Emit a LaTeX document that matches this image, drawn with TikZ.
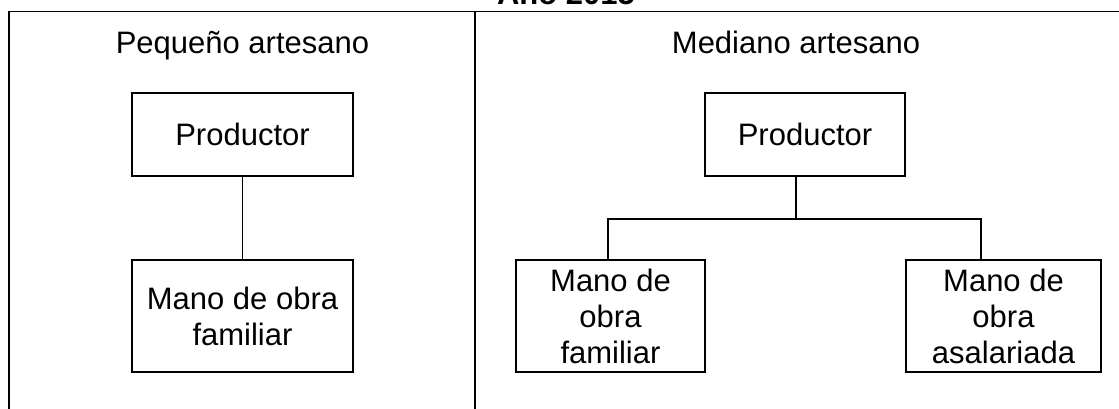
\documentclass[tikz,border=0pt]{standalone}
\usepackage{fontspec}
\setmainfont{Liberation Sans}
\usetikzlibrary{positioning}

\begin{document}
\begin{tikzpicture}[x=0.75pt, y=-0.75pt, line width=0.8pt,
    every node/.style={font=\fontsize{23.25}{27}\selectfont},
    block/.style={draw, rectangle, align=center, inner sep=0pt, outer sep=0pt, minimum height=62.25pt},
    lowblock/.style={block, minimum height=84pt}]
    \useasboundingbox (0,0) rectangle (1119,409);
    \clip (0,0) rectangle (1119,409);

    % Frame of the table
    \coordinate (frameL) at (9,11.7);
    \coordinate (frameM) at (475,11.7);
    \coordinate (frameR) at (1119,11.7);
    \draw (frameL |- 0,409) -- (frameL) -- (frameR);
    \draw (frameM) -- (frameM |- 0,409);
    \node [anchor=base, font=\fontsize{23.25}{27}\selectfont\bfseries] (title) at (566,5) {Año 2015};
    \node [anchor=base] (headSmall) at (242.5,54) {Pequeño artesano};
    \node [anchor=base] (headMedium) at (796,54) {Mediano artesano};

    % Small craftsman
    \node [block, minimum width=165.75pt] (prodSmall) at (242.5,134.5) {Productor};
    \node [lowblock, minimum width=165.75pt, below=63pt of prodSmall] (famSmall) {Mano de obra\\familiar};
    \draw (prodSmall) -- (famSmall);

    % Medium craftsman
    \node [block, minimum width=150pt] (prodMedium) at (805,134.5) {Productor};
    \node [lowblock, minimum width=141.75pt] (famMedium) at (610.5,316) {Mano de\\obra\\familiar};
    \node [lowblock, minimum width=146.25pt, right=150.75pt of famMedium] (wageMedium) {Mano de\\obra\\asalariada};
    \coordinate (joinMid) at (796,219);
    \coordinate (joinLeft) at (608,219);
    \coordinate (joinRight) at (981,219);
    \draw (prodMedium.south -| joinMid) -- (joinMid);
    \draw (famMedium.north -| joinLeft) -- (joinLeft) -- (joinRight) -- (wageMedium.north -| joinRight);
\end{tikzpicture}
\end{document}
